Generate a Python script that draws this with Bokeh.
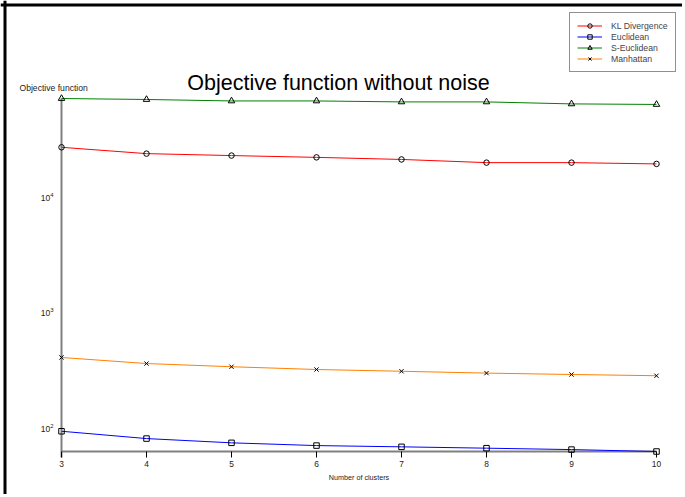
import math
from bokeh.plotting import figure
from bokeh.models import Range1d, FixedTicker, Label, Span
from bokeh.embed import file_html
from bokeh.resources import INLINE

clusters = [3, 4, 5, 6, 7, 8, 9, 10]
kl_divergence = [26900, 23700, 22800, 22000, 21100, 19800, 19800, 19300]
euclidean = [91.9, 79.4, 72.9, 69.0, 67.3, 65.5, 63.7, 61.3]
s_euclidean = [71400, 70000, 68000, 68000, 66700, 66700, 64100, 63400]
manhattan = [402, 356, 334, 316, 305, 294, 286, 279]
y_ticks = [100, 1000, 10000]
x_ticks = clusters

FONT = "Liberation Sans"

# canvas geometry (pixels from the canvas top-left)
W, H = 682, 494
data_left, data_right = 61, 656
data_top, data_bottom = 98, 451
yaxis_bottom = 457      # y-axis line runs a little below the x-axis
frame_line = 4.5        # centre of the black page frame lines

xmin, xmax = min(clusters), max(clusters)
ymin, ymax = min(euclidean), max(s_euclidean)
px_x = (data_right - data_left) / (xmax - xmin)
lo, hi = math.log10(ymin), math.log10(ymax)
px_dec = (data_bottom - data_top) / (hi - lo)

x_range = Range1d(xmin - data_left / px_x, xmax + (W - data_right) / px_x)
y_range = Range1d(10 ** (lo - (H - data_bottom) / px_dec),
                  10 ** (hi + data_top / px_dec))
y_axis_low = 10 ** (lo - (yaxis_bottom - data_bottom) / px_dec)

p = figure(width=W, height=H, x_range=x_range, y_range=y_range,
           y_axis_type="log", output_backend="svg", toolbar_location=None,
           min_border=0)
p.outline_line_color = None
p.title.visible = False
p.grid.visible = False

# black page frame on the left and top
p.add_layout(Span(location=xmin - (data_left - frame_line) / px_x,
                  dimension="height", line_color="black", line_width=3))
p.add_layout(Span(location=10 ** (hi + (data_top - frame_line) / px_dec),
                  dimension="width", line_color="black", line_width=3))

xa = p.xaxis[0]
ya = p.yaxis[0]
for ax in (xa, ya):
    ax.axis_line_color = None
    ax.minor_tick_line_color = None
    ax.major_label_text_font = FONT
    ax.major_label_text_color = "#222222"

xa.fixed_location = ymin
xa.bounds = (xmin, xmax)
xa.ticker = FixedTicker(ticks=x_ticks)
xa.major_tick_in = 0
xa.major_tick_out = 6
xa.major_tick_line_color = "black"
xa.major_tick_line_width = 1
xa.major_label_text_font_size = "8.4px"
xa.major_label_standoff = 3
xa.axis_label = "Number of clusters"
xa.axis_label_text_font = FONT
xa.axis_label_text_font_size = "7.2px"
xa.axis_label_text_font_style = "normal"
xa.axis_label_text_color = "#222222"
xa.axis_label_standoff = 3

ya.fixed_location = xmin
ya.bounds = (y_axis_low, ymax)
ya.ticker = FixedTicker(ticks=y_ticks)
ya.major_tick_in = 0
ya.major_tick_out = 0
ya.major_tick_line_color = None
ya.major_label_text_font_size = "8.5px"
ya.major_label_standoff = 8

# axis rules
p.line([xmin, xmin], [y_axis_low, ymax], line_color="#808080", line_width=2)
p.line([xmin, xmax], [ymin, ymin], line_color="#808080", line_width=2)

series = [
    ("KL Divergence", kl_divergence, "#ff0000", "circle", 5.5),
    ("Euclidean", euclidean, "#0000ff", "square", 5.5),
    ("S-Euclidean", s_euclidean, "#008000", "triangle", 6.5),
    ("Manhattan", manhattan, "#ff8000", "x", 6),
]
for name, vals, col, mk, sz in series:
    p.line(clusters, vals, line_color=col, line_width=1, legend_label=name)
    p.scatter(clusters, vals, marker=mk, size=sz, line_color="black",
              line_width=1, fill_color=None, legend_label=name)

lg = p.legend[0]
lg.location = (569, H - 72)
lg.border_line_color = "#222222"
lg.border_line_width = 1
lg.background_fill_color = "white"
lg.background_fill_alpha = 1
lg.padding = 7
lg.margin = 0
lg.spacing = 0
lg.glyph_width = 25
lg.glyph_height = 11
lg.label_height = 11
lg.label_standoff = 9
lg.label_text_font = FONT
lg.label_text_font_size = "8.7px"
lg.label_text_baseline = "middle"

p.add_layout(Label(x=338, y=H - 82, x_units="screen", y_units="screen",
                   text="Objective function without noise", text_font=FONT,
                   text_font_size="21.5px", text_align="center",
                   text_baseline="alphabetic", text_color="black"))
p.add_layout(Label(x=19, y=H - 87, x_units="screen", y_units="screen",
                   text="Objective function", text_font=FONT,
                   text_font_size="8.6px", text_align="left",
                   text_baseline="alphabetic", text_color="#222222"))

open("out.html", "w").write(file_html(p, INLINE))
